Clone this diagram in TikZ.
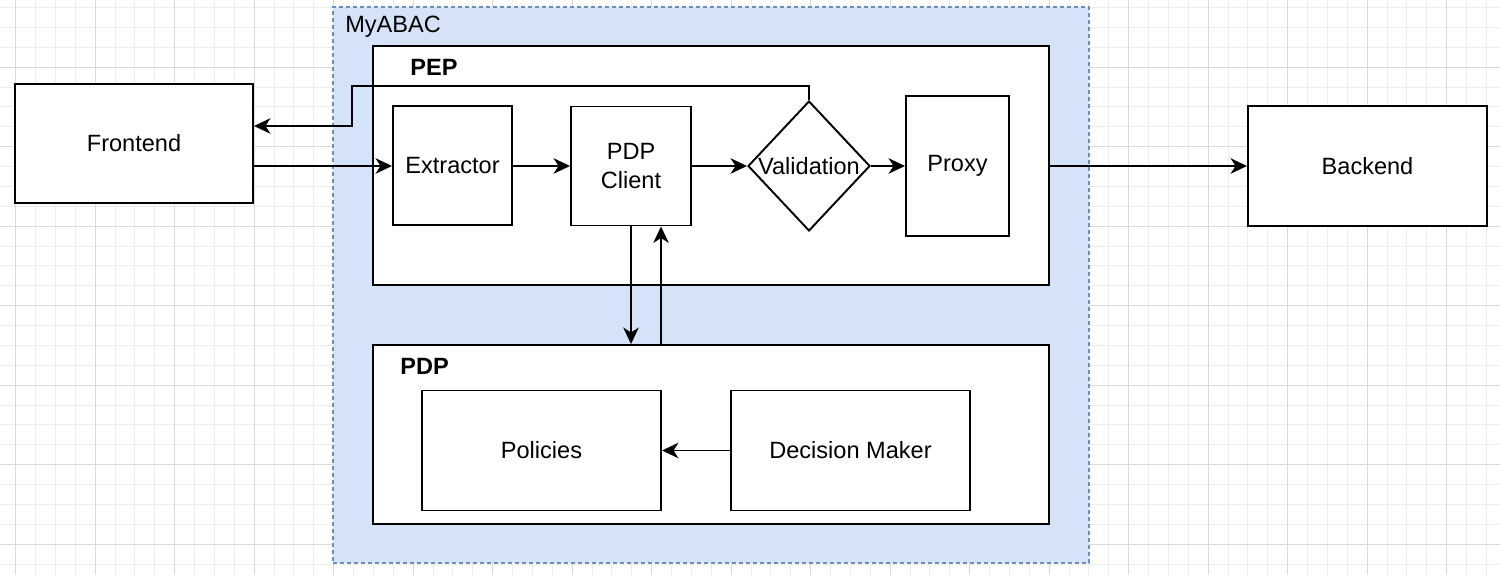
\documentclass[tikz,border=0pt]{standalone}
\usepackage{fontspec}
\setmainfont{Liberation Sans}
\usetikzlibrary{positioning}
\usetikzlibrary{shapes.geometric, arrows.meta}
\definecolor{abacfill}{RGB}{213,227,249}
\definecolor{abacline}{RGB}{108,142,191}

\begin{document}
\begin{tikzpicture}[
  font=\fontsize{13.4}{16.4}\selectfont,
  box/.style={draw=black,fill=white,line width=1.1pt,inner sep=0pt,align=center},
  decision/.style={diamond,draw=black,fill=white,line width=1.1pt,inner sep=0pt},
  group/.style={draw=black,fill=white,line width=1.1pt,inner sep=0pt},
  container/.style={draw=abacline,fill=abacfill,line width=0.9pt,dash pattern=on 0.08cm off 0.06cm,inner sep=0pt},
  flow/.style={line width=1.1pt,-{Stealth[length=0.33cm,width=0.31cm,inset=0.1cm]}},
  gridminor/.style={draw=black!7,line width=0.4pt},
  gridmajor/.style={draw=black!15,line width=0.5pt}]
\useasboundingbox (0,0) rectangle (30,-11.5);
\fill[white] (0,0) rectangle (30,-11.5);
% background grid
\begin{scope}
\clip (0,0) rectangle (30,-11.5);
\draw[gridminor,shift={(0.31,-0.148)}] (-1,-12) grid[step=0.3975] (31,1);
\draw[gridmajor,shift={(0.31,-1.34)}] (-2,-12) grid[step=1.59] (31,2);
\end{scope}

% outer services
\node[box,minimum width=4.76cm,minimum height=2.38cm] (frontend) at (2.68,-2.87) {Frontend};
\node[box,minimum width=4.78cm,minimum height=2.40cm] (backend) at (27.35,-3.32) {Backend};

% MyABAC
\node[container,minimum width=15.12cm,minimum height=11.12cm] (myabac) at (14.22,-5.70) {};
\node[anchor=west,inner sep=0pt] (myabaclabel) at (6.90,-0.54) {MyABAC};

% PEP
\node[group,minimum width=13.52cm,minimum height=4.78cm] (pep) at (14.22,-3.31) {};
\node[anchor=west,inner sep=0pt,font=\fontsize{13.4}{16.4}\selectfont\bfseries] (peplabel) at (8.20,-1.34) {PEP};
\node[box,minimum width=2.38cm,minimum height=2.38cm] (extractor) at (9.05,-3.31) {Extractor};
\node[box,minimum width=2.40cm,minimum height=2.38cm] (client) at (12.62,-3.32) {PDP\\Client};
\node[decision,minimum width=2.44cm,minimum height=2.60cm,label={center:Validation}] (validation) at (16.18,-3.32) {};
\node[box,minimum width=2.06cm,minimum height=2.80cm] (proxy) at (19.15,-3.32) {Proxy};

% PDP
\node[group,minimum width=13.52cm,minimum height=3.58cm] (pdp) at (14.22,-8.69) {};
\node[anchor=west,inner sep=0pt,font=\fontsize{13.4}{16.4}\selectfont\bfseries] (pdplabel) at (8.00,-7.32) {PDP};
\node[box,minimum width=4.78cm,minimum height=2.40cm] (policies) at (10.83,-9.01) {Policies};
\node[box,minimum width=4.78cm,minimum height=2.40cm] (decider) at (17.01,-9.01) {Decision Maker};

% connectors
\coordinate (loopa) at (7.04,-1.72);
\coordinate (loopb) at (7.04,-2.52);
\coordinate (upfoot) at ([xshift=0.6cm]client.south);
\draw[flow] (frontend.east |- client.west) -- (extractor.west |- client.west);
\draw[flow] (extractor.east |- client.west) -- (client.west);
\draw[flow] (client) -- (validation);
\draw[flow] (validation) -- (proxy);
\draw[flow] (validation.north) |- (loopa) -- (loopb) -- (frontend.east |- loopb);
\draw[flow] (pep.east |- backend.west) -- (backend.west);
\draw[flow] (client.south) -- (client.south |- pdp.north);
\draw[flow] (upfoot |- pdp.north) -- (upfoot);
\draw[flow] (decider) -- (policies);

\end{tikzpicture}
\end{document}
